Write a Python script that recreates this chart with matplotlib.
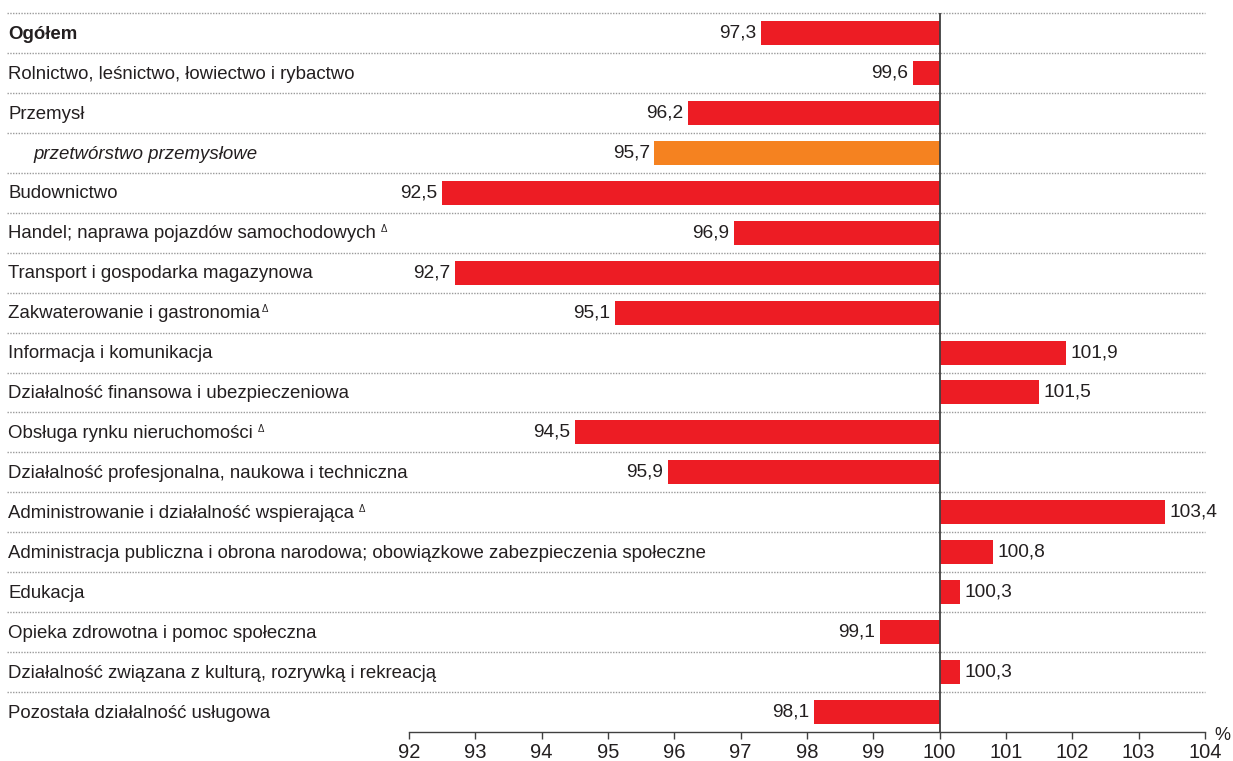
import numpy as np
import matplotlib.pyplot as plt

plt.rcParams['font.family'] = ['Liberation Sans', 'DejaVu Sans']

labels = [
    'Ogółem',
    'Rolnictwo, leśnictwo, łowiectwo i rybactwo',
    'Przemysł',
    'przetwórstwo przemysłowe',
    'Budownictwo',
    'Handel; naprawa pojazdów samochodowych',
    'Transport i gospodarka magazynowa',
    'Zakwaterowanie i gastronomia',
    'Informacja i komunikacja',
    'Działalność finansowa i ubezpieczeniowa',
    'Obsługa rynku nieruchomości',
    'Działalność profesjonalna, naukowa i techniczna',
    'Administrowanie i działalność wspierająca',
    'Administracja publiczna i obrona narodowa; obowiązkowe zabezpieczenia społeczne',
    'Edukacja',
    'Opieka zdrowotna i pomoc społeczna',
    'Działalność związana z kulturą, rozrywką i rekreacją',
    'Pozostała działalność usługowa',
]
values = [97.3, 99.6, 96.2, 95.7, 92.5, 96.9, 92.7, 95.1, 101.9, 101.5,
          94.5, 95.9, 103.4, 100.8, 100.3, 99.1, 100.3, 98.1]
delta_rows = [5, 7, 10, 12]
ticks = list(range(92, 105))

red = '#ED1C24'
orange = '#F58220'
txt = '#231F20'

fig = plt.figure(figsize=(12.33, 7.61), dpi=100)
ax = fig.add_axes([409 / 1233, 29 / 761, 796 / 1233, 719 / 761])

n = len(values)
y = np.arange(n)
colors = [orange if i == 3 else red for i in range(n)]
ax.barh(y, np.array(values) - 100, left=100, height=0.6, color=colors, zorder=2)

ax.set_xlim(92, 104)
ax.set_ylim(n - 0.5, -0.5)
ax.axvline(100, color='#404040', lw=1.3, zorder=3)

# dotted separators, reaching into the label area
for k in range(n):
    ax.axhline(k - 0.5, xmin=-0.505, xmax=1.0, color='#9a9a9a', lw=1.0,
               ls=(0, (1, 1)), clip_on=False, zorder=1)

# value labels
for i, v in enumerate(values):
    s = f'{v:.1f}'.replace('.', ',')
    if v < 100:
        ax.text(v - 0.07, i, s, ha='right', va='center', fontsize=13.8, color=txt)
    else:
        ax.text(v + 0.07, i, s, ha='left', va='center', fontsize=13.8, color=txt)

# category labels on the left
label_objs = []
for i, lab in enumerate(labels):
    kw = {}
    xpos = 8 / 1233
    if i == 0:
        kw['fontweight'] = 'bold'
    if i == 3:
        kw['style'] = 'italic'
        xpos = 33 / 1233
    yy = ax.transData.transform((100, i + 0.03))[1] / fig.bbox.height
    t = fig.text(xpos, yy, lab, ha='left', va='center', fontsize=13.4, color=txt, **kw)
    label_objs.append(t)

fig.canvas.draw()
r = fig.canvas.get_renderer()
for i in delta_rows:
    bb = label_objs[i].get_window_extent(renderer=r)
    gap = 2 if i == 7 else 5
    fig.text((bb.x1 + gap) / fig.bbox.width, (bb.y1 - 4) / fig.bbox.height,
             'Δ', fontsize=7, color=txt, ha='left', va='center')

for sp in ['top', 'right', 'left']:
    ax.spines[sp].set_visible(False)
ax.spines['bottom'].set_color('#404040')
ax.spines['bottom'].set_linewidth(1.0)
ax.set_yticks([])
ax.set_xticks(ticks)
ax.tick_params(axis='x', direction='out', length=5, width=1, color='#404040',
               labelsize=14.5, labelcolor=txt, pad=3)
ax.text(1.012, -0.016, '%', transform=ax.transAxes, fontsize=13, color=txt,
        ha='left', va='bottom')

fig.savefig('out.png', dpi=100)
